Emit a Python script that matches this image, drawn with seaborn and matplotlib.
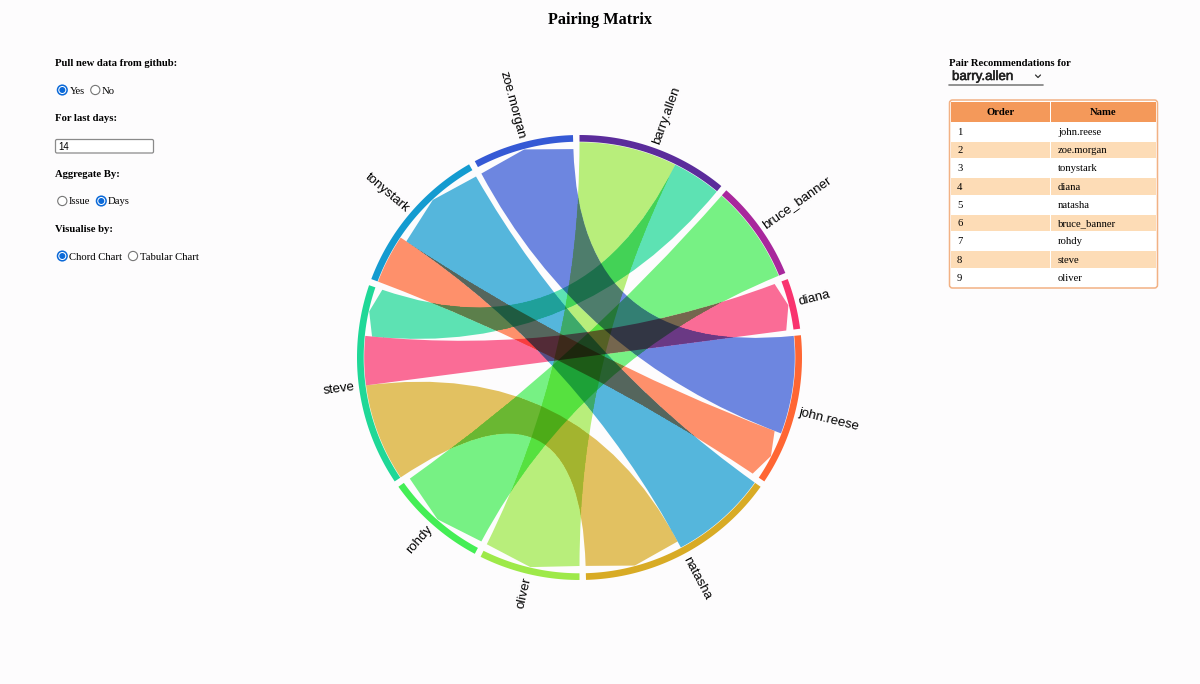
import numpy as np
import matplotlib
matplotlib.use("Agg")
import matplotlib.pyplot as plt
import matplotlib.patheffects as pe
from matplotlib.backends.backend_agg import FigureCanvasAgg
from matplotlib.figure import Figure
from matplotlib.patches import Circle, FancyBboxPatch, PathPatch, Polygon, Rectangle
from matplotlib.path import Path
import seaborn as sns

# people around the circle, clockwise from the top
people = ["barry.allen", "bruce_banner", "diana", "john.reese", "natasha",
          "oliver", "rohdy", "steve", "tonystark", "zoe.morgan"]
people_colors = ["#5b2c9b", "#a8289c", "#f9346f", "#ff6633", "#d8ab25",
                 "#9ee949", "#44ee55", "#1fd897", "#149bd0", "#3559d5"]

# pairing days, source -> target, ribbon takes the target colour
sources = ["barry.allen", "barry.allen", "bruce_banner", "john.reese",
           "steve", "steve", "tonystark", "natasha"]
targets = ["oliver", "steve", "rohdy", "zoe.morgan",
           "natasha", "diana", "john.reese", "tonystark"]
days = [2, 1, 2, 2, 2, 1, 1, 2]

# order of the partners inside each person's arc
partner_order = {
    "barry.allen": ["oliver", "steve"],
    "bruce_banner": ["rohdy"],
    "diana": ["steve"],
    "john.reese": ["zoe.morgan", "tonystark"],
    "natasha": ["tonystark", "steve"],
    "oliver": ["barry.allen"],
    "rohdy": ["bruce_banner"],
    "steve": ["natasha", "diana", "barry.allen"],
    "tonystark": ["john.reese", "natasha"],
    "zoe.morgan": ["john.reese"],
}

orders = [1, 2, 3, 4, 5, 6, 7, 8, 9]
recommended = ["john.reese", "zoe.morgan", "tonystark", "diana", "natasha",
               "bruce_banner", "rohdy", "steve", "oliver"]

BG = "#fdfcfd"
CX, CY = 579.5, 357.5
R_OUT, R_IN, R_SRC, R_TGT = 222.5, 215.8, 215.3, 208.5
PAD = np.radians(1.68)
RIBBON_ALPHA = 0.72
LABEL_PT = 7.7

sns.set_theme(style="white", rc={"figure.facecolor": BG, "axes.facecolor": BG})
plt.rcParams["font.family"] = ["Liberation Serif", "DejaVu Serif"]
palette = dict(zip(people, sns.color_palette(people_colors)))


def pt(r, a):
    return CX + r * np.sin(a), CY - r * np.cos(a)


def arc(r, a0, a1):
    steps = max(int(np.degrees(a1 - a0)), 2) + 1
    return [pt(r, a) for a in np.linspace(a0, a1, steps)]


def ribbon_path(s0, s1, t0, t1):
    verts = arc(R_SRC, s0, s1)
    codes = [Path.MOVETO] + [Path.LINETO] * (len(verts) - 1)
    tm = (t0 + t1) / 2
    verts += [(CX, CY), pt(R_TGT, t0), pt(R_SRC, tm), pt(R_TGT, t1), (CX, CY), pt(R_SRC, s0)]
    codes += [Path.CURVE3, Path.CURVE3, Path.LINETO, Path.LINETO, Path.CURVE3, Path.CURVE3]
    return Path(verts, codes)


# chord layout
flow = {}
for s, t, d in zip(sources, targets, days):
    flow[(s, t)] = d
    flow[(t, s)] = d

unit = (2 * np.pi - PAD * len(people)) / (2 * sum(days))
group_span = {}
slot = {}
angle = 0.0
for name in people:
    start = angle
    for other in partner_order[name]:
        width = flow[(name, other)] * unit
        slot[(name, other)] = (angle, angle + width)
        angle += width
    group_span[name] = (start, angle)
    angle += PAD

fig = plt.figure(figsize=(12, 6.84), dpi=100)
ax = fig.add_axes([0, 0, 1, 1])
ax.set_xlim(0, 1200)
ax.set_ylim(684, 0)
ax.axis("off")

# ribbons
ribbon_paths = []
for s, t in zip(sources, targets):
    path = ribbon_path(*slot[(s, t)], *slot[(t, s)])
    ribbon_paths.append((path, palette[t]))
    ax.add_patch(PathPatch(path, facecolor=palette[t], edgecolor="none",
                           alpha=RIBBON_ALPHA, zorder=2))

# the page multiplies the ribbons, so redo the overlapping pixels that way
off = Figure(figsize=(12, 6.84), dpi=100)
off_canvas = FigureCanvasAgg(off)
off_ax = off.add_axes([0, 0, 1, 1])
off_ax.set_xlim(0, 1200)
off_ax.set_ylim(684, 0)
off_ax.axis("off")
off.patch.set_alpha(0)
product = np.ones((684, 1200, 3)) * np.array(matplotlib.colors.to_rgb(BG))
coverage = np.zeros((684, 1200))
for path, color in ribbon_paths:
    patch = off_ax.add_patch(PathPatch(path, facecolor="k", edgecolor="none"))
    off_canvas.draw()
    mask = np.asarray(off_canvas.buffer_rgba())[..., 3] / 255
    patch.remove()
    factor = 1 - RIBBON_ALPHA * mask[..., None] * (1 - np.array(color))
    product *= factor
    coverage += mask > 0.5
overlay = np.dstack([product, (coverage >= 2).astype(float)])
ax.imshow(overlay, extent=(0, 1200, 684, 0), interpolation="nearest", aspect="auto", zorder=3)
ax.set_xlim(0, 1200)
ax.set_ylim(684, 0)

# outer ring and labels
for name in people:
    a0, a1 = group_span[name]
    ax.add_patch(Polygon(arc(R_OUT, a0, a1) + arc(R_IN, a0, a1)[::-1], closed=True,
                         facecolor=palette[name], edgecolor="none", zorder=4))
    mid = (a0 + a1) / 2
    x, y = pt(226.5, mid)
    deg = np.degrees(mid)
    if deg < 180:
        rot, ha = 90 - deg, "left"
    else:
        rot, ha = 270 - deg, "right"
    ax.text(x, y, name, rotation=rot, rotation_mode="anchor", ha=ha, va="center",
            family="Liberation Sans", fontsize=9.5, color="black", zorder=5)

ax.text(600, 20, "Pairing Matrix", ha="center", va="center", fontsize=11.7, fontweight="bold", color="black")


# left controls
def radio(x, y, label, label_x, checked=False):
    if checked:
        ax.add_patch(Circle((x, y), 4.8, facecolor="white", edgecolor="#0b69d8", lw=1.1))
        ax.add_patch(Circle((x, y), 3.0, facecolor="#0b69d8", edgecolor="none"))
    else:
        ax.add_patch(Circle((x, y), 4.6, facecolor="white", edgecolor="#767676", lw=0.8))
    ax.text(label_x, y + 1, label, ha="left", va="center", fontsize=LABEL_PT, color="black")


for y, label in zip([63, 118, 174, 229],
                    ["Pull new data from github:", "For last days:", "Aggregate By:", "Visualise by:"]):
    ax.text(55, y + 0.7, label, ha="left", va="center", fontsize=LABEL_PT, fontweight="bold", color="black")

radio(62.3, 90, "Yes", 69.5, True)
radio(95.3, 90, "No", 101.5)
radio(62.3, 201, "Issue", 69)
radio(101.3, 201, "Days", 108, True)
radio(62.3, 256, "Chord Chart", 69, True)
radio(133, 256, "Tabular Chart", 140)

ax.add_patch(FancyBboxPatch((55.5, 139.5), 98, 13.5, boxstyle="round,pad=0,rounding_size=1.5",
                            facecolor="white", edgecolor="#8a8a8a", lw=0.9))
ax.text(58, 146.5, "14", ha="left", va="center", family="Liberation Sans", fontsize=7, color="black")

# right panel
ax.text(949, 63.7, "Pair Recommendations for", ha="left", va="center", fontsize=LABEL_PT, fontweight="bold", color="black")
selected = ax.text(952, 77, "barry.allen", ha="left", va="center", family="Liberation Sans", fontsize=9.6,
                   color="#222222")
selected.set_path_effects([pe.withStroke(linewidth=0.4, foreground="#222222")])
ax.plot([1035.5, 1038, 1040.5], [75, 77.5, 75], color="#333333", lw=0.9)
ax.plot([949, 1043], [84.5, 84.5], color="#808080", lw=1.2)

ax.add_patch(FancyBboxPatch((949.5, 100), 208, 188, boxstyle="round,pad=0,rounding_size=3",
                            facecolor="white", edgecolor="#f2b184", lw=1.1))
ax.add_patch(Rectangle((951, 102), 99, 20, facecolor="#f4995a", edgecolor="none"))
ax.add_patch(Rectangle((1051, 102), 105, 20, facecolor="#f4995a", edgecolor="none"))
ax.text(1000.5, 112.5, "Order", ha="center", va="center", fontsize=LABEL_PT, fontweight="bold", color="black")
ax.text(1103, 112.5, "Name", ha="center", va="center", fontsize=LABEL_PT, fontweight="bold", color="black")

row_top = 122.5
row_h = 18.25
for i, (order, name) in enumerate(zip(orders, recommended)):
    y = row_top + row_h * i
    if i % 2 == 1:
        ax.add_patch(Rectangle((951, y + 1), 99, row_h - 2, facecolor="#fddcb6", edgecolor="none"))
        ax.add_patch(Rectangle((1051, y + 1), 105, row_h - 2, facecolor="#fddcb6", edgecolor="none"))
    ax.text(957, y + row_h / 2 + 0.7, str(order), ha="left", va="center", fontsize=LABEL_PT, color="black")
    ax.text(1058, y + row_h / 2 + 0.7, name, ha="left", va="center", fontsize=LABEL_PT, color="black")

fig.savefig("out.png", dpi=100, facecolor=BG)
